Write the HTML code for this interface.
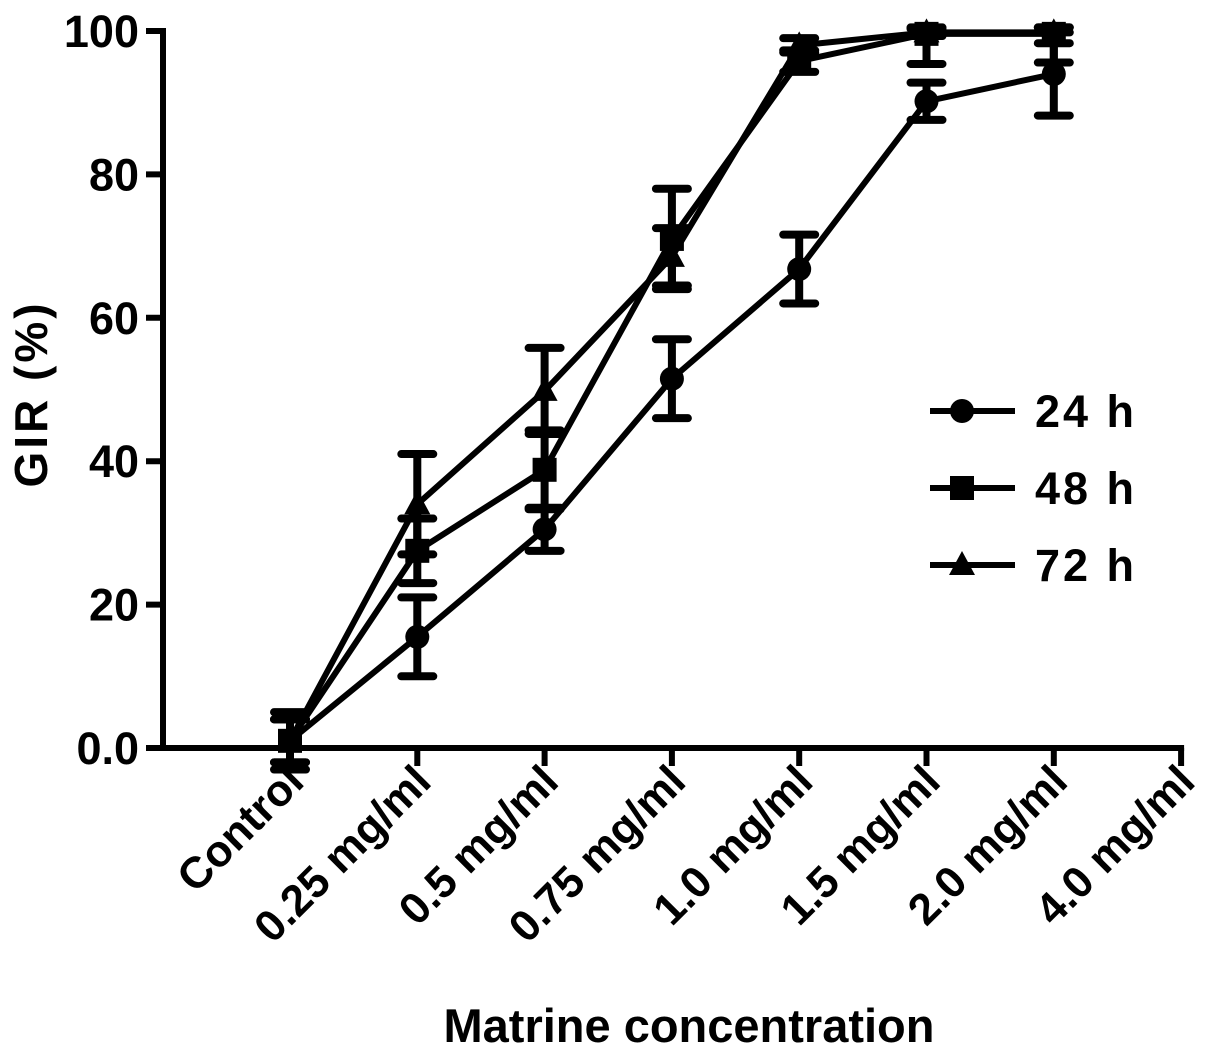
<!DOCTYPE html>
<html><head><meta charset="utf-8"><style>
html,body{margin:0;padding:0;background:#fff;}
svg text{font-family:"Liberation Sans",Arial,sans-serif;font-weight:bold;fill:#000;}
</style></head><body>
<svg id="chart" width="1205" height="1052" viewBox="0 0 1205 1052" xmlns="http://www.w3.org/2000/svg">
<g id="axes"></g>
<g id="series"></g>
<g id="legend"></g>
<text transform="translate(47,394) rotate(-90)" text-anchor="middle" font-size="46" letter-spacing="3">GIR (%)</text>
<text x="689" y="1042" text-anchor="middle" font-size="47">Matrine concentration</text>
</svg>
<script>
const categories = ["Control","0.25 mg/ml","0.5 mg/ml","0.75 mg/ml","1.0 mg/ml","1.5 mg/ml","2.0 mg/ml","4.0 mg/ml"];
const yTicks = [0,20,40,60,80,100];
const yTickLabels = ["0.0","20","40","60","80","100"];
const seriesNames = ["24 h","48 h","72 h"];
const v24 = [1, 15.5, 30.5, 51.5, 66.8, 90.2, 94];
const e24 = [4, 5.5, 3, 5.5, 4.8, 2.6, 5.8];
const v48 = [1, 27.5, 38.8, 71, 95.8, 99.6, 99.6];
const e48 = [3, 4.5, 5.5, 7, 1.5, 4.2, 4];
const v72 = [1, 34, 49.8, 68.5, 98, 99.8, 99.8];
const e72 = [3, 7, 6, 4, 1, 0.5, 1.5];

const NS="http://www.w3.org/2000/svg";
const X0=163, Y0=748, YT=31, dx=127.3, xFirst=290;
const xs=i=>xFirst+i*dx;
const ys=v=>Y0-(v/100)*(Y0-YT);
function mk(tag,attrs,parent){const e=document.createElementNS(NS,tag);for(const k in attrs)e.setAttribute(k,attrs[k]);parent.appendChild(e);return e;}
const axes=document.getElementById('axes');
let el=mk('line',{x1:X0,y1:YT-3,x2:X0,y2:Y0+3,stroke:'#000','stroke-width':6},axes);


el=mk('line',{x1:X0-3,y1:Y0,x2:xs(7)+3,y2:Y0,stroke:'#000','stroke-width':6},axes);


yTicks.forEach((t,i)=>{
  let l=mk('line',{x1:X0-17,y1:ys(t),x2:X0,y2:ys(t),stroke:'#000','stroke-width':6},axes);
  
  
  let tx=mk('text',{x:X0-24,y:ys(t)+16,'text-anchor':'end','font-size':45},axes);
  tx.textContent=yTickLabels[i];
  
  
});
categories.forEach((c,i)=>{
  let l=mk('line',{x1:xs(i),y1:Y0,x2:xs(i),y2:Y0+18,stroke:'#000','stroke-width':6},axes);
  
  
  let tx=mk('text',{'text-anchor':'end','font-size':44,transform:`translate(${xs(i)+16},${Y0+36}) rotate(-45)`},axes);
  tx.textContent=c;
  
  
});
function marker(kind,x,y,parent){
  let m;
  if(kind===0) m=mk('circle',{cx:x,cy:y,r:12,fill:'#000'},parent);
  else if(kind===1) m=mk('rect',{x:x-12,y:y-12,width:24,height:24,fill:'#000'},parent);
  else m=mk('polygon',{points:`${x},${y-14} ${x+13},${y+10} ${x-13},${y+10}`,fill:'#000'},parent);
  return m;
}
const sg=document.getElementById('series');
[[v24,e24],[v48,e48],[v72,e72]].forEach(([vals,errs],k)=>{
  const g=mk('g',{},sg);
  
  
  const p=mk('polyline',{points:vals.map((v,i)=>xs(i)+','+ys(v)).join(' '),fill:'none',stroke:'#000','stroke-width':6,'stroke-linejoin':'round'},g);
  
  
  vals.forEach((v,i)=>{
    const top=ys(Math.min(v+errs[i],100.5)), bot=ys(v-errs[i]);
    const eb=mk('path',{d:`M${xs(i)},${top}V${bot}M${xs(i)-16},${top}H${xs(i)+16}M${xs(i)-16},${bot}H${xs(i)+16}`,stroke:'#000','stroke-width':8,'stroke-linecap':'round',fill:'none'},g);
    
    
    const m=marker(k,xs(i),ys(v),g);
    
    
  });
});
const lg=document.getElementById('legend');
seriesNames.forEach((n,k)=>{
  const y=411+k*77;
  const g=mk('g',{},lg);
  
  
  mk('line',{x1:930,y1:y,x2:1015,y2:y,stroke:'#000','stroke-width':6},g);
  marker(k,962,y,g);
  const t=mk('text',{x:1035,y:y+16,'font-size':45,'letter-spacing':3},g);
  t.textContent=n;
});
</script>
</body></html>
